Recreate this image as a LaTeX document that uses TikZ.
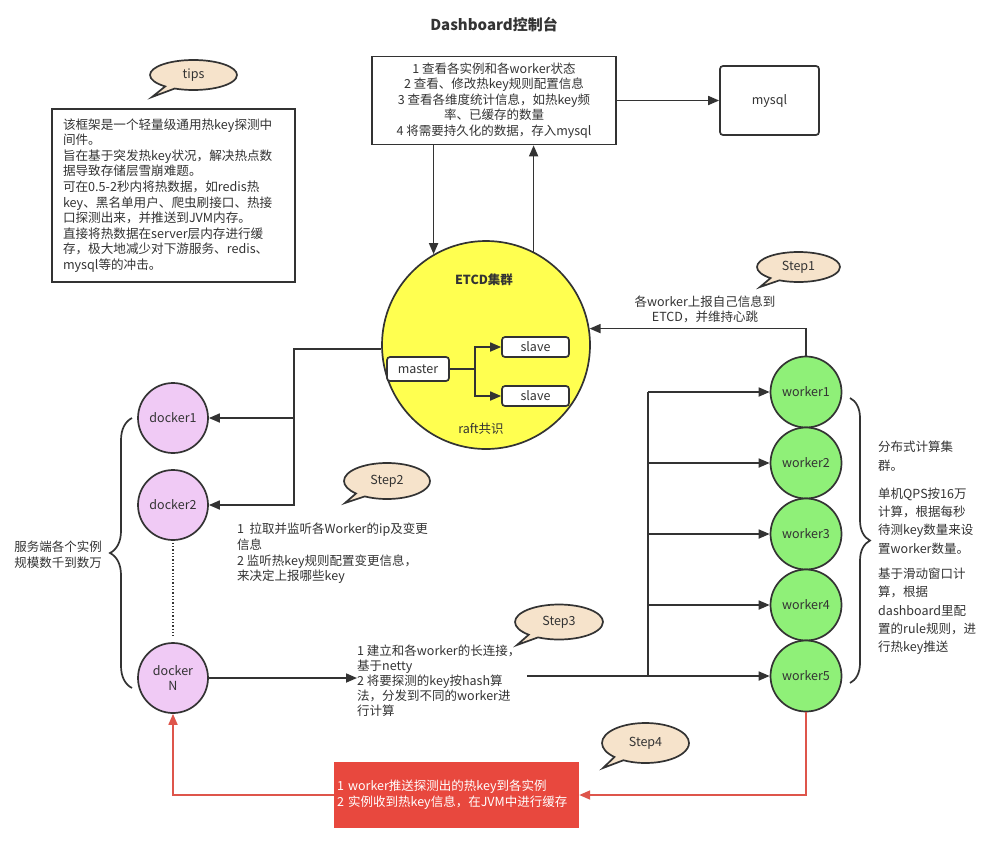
\documentclass[tikz,border=0pt]{standalone}
\usepackage{fontspec}
\setmainfont{Noto Sans CJK SC}
\usetikzlibrary{arrows.meta,shapes.callouts,shapes.geometric,decorations.pathreplacing,calc}
\definecolor{ink}{HTML}{333333}
\definecolor{etcdy}{RGB}{255,255,80}
\definecolor{wgreen}{RGB}{143,240,120}
\definecolor{dpink}{RGB}{240,202,245}
\definecolor{bub}{RGB}{246,227,203}
\definecolor{redbox}{RGB}{232,72,62}
\definecolor{redln}{RGB}{222,85,75}
\begin{document}
\begin{tikzpicture}[x=1pt,y=-1pt,
  every node/.style={text=ink},
  txt/.style={font=\fontsize{12.5}{15.6}\selectfont},
  line/.style={draw=ink, line width=1.7pt},
  arr/.style={line, -{Triangle[length=11pt,width=9pt]}},
  redarr/.style={draw=redln, line width=1.7pt, -{Triangle[length=11pt,width=9pt]}},
  box/.style={line, fill=white, txt, inner sep=0pt},
  worker/.style={circle, line, fill=wgreen, minimum size=71pt, inner sep=0pt, txt},
  docker/.style={circle, line, fill=dpink, minimum size=70pt, inner sep=0pt, txt, align=center},
  bubble/.style={ellipse callout, line, fill=bub, inner sep=0pt, txt},
  plain/.style={txt, inner sep=0pt, align=left, anchor=north west},
  bracestyle/.style={line, decorate}
]
\fill[white] (0,0) rectangle (1000,841);
\useasboundingbox (0,0) rectangle (1000,841);

% title
\node[font=\fontsize{15}{18}\selectfont\bfseries] (title) at (494,25) {Dashboard控制台};

% dashboard box and mysql
\node[line, txt, align=center, minimum width=244pt, minimum height=88pt, inner sep=0pt] (dash) at (494,100.5)
 {1 查看各实例和各worker状态\\2 查看、修改热key规则配置信息\\3 查看各维度统计信息，如热key频\\率、已缓存的数量\\4 将需要持久化的数据，存入mysql};
\node[box, rounded corners=3pt, minimum width=99pt, minimum height=69pt] (mysql) at (769.5,100.5) {mysql};
\draw[arr] (dash.east |- mysql.west) -- (mysql.west);

% tips
\node[bubble, minimum width=87pt, minimum height=30pt, callout absolute pointer={(152,97)}] (tips) at (193.5,75) {tips};
\node[line, font=\fontsize{12.6}{15.6}\selectfont, text width=221pt, align=left, minimum width=243pt, minimum height=173pt, inner xsep=11pt, inner ysep=0pt] (tipsbox) at (173.5,195.5)
 {该框架是一个轻量级通用热key探测中\\间件。\\旨在基于突发热key状况，解决热点数\\据导致存储层雪崩难题。\\可在0.5-2秒内将热数据，如redis热\\key、黑名单用户、爬虫刷接口、热接\\口探测出来，并推送到JVM内存。\\直接将热数据在server层内存进行缓\\存，极大地减少对下游服务、redis、\\mysql等的冲击。};

% ETCD
\node[circle, line, fill=etcdy, minimum size=208pt, inner sep=0pt] (etcd) at (486,345) {};
\node[txt, font=\fontsize{12.5}{15}\selectfont\bfseries] (etcdlabel) at (484,280) {ETCD集群};
\node[txt] (raft) at (481,429) {raft共识};
\node[box, rounded corners=3pt, minimum width=62pt, minimum height=24pt] (master) at (418,369) {master};
\node[box, rounded corners=3pt, minimum width=67pt, minimum height=20pt] (s1) at (535.5,347) {slave};
\node[box, rounded corners=3pt, minimum width=67pt, minimum height=20pt] (s2) at (535.5,396) {slave};
\coordinate (fork) at (475,369);
\draw[line] (master.east) -- (fork);
\draw[arr] (fork) |- (s1.west);
\draw[arr] (fork) |- (s2.west);

% dashboard <-> etcd
\draw[arr] (dash.south -| etcd.120.6) -- (etcd.120.6);
\draw[arr] (etcd.63.1) -- (etcd.63.1 |- dash.south);

% workers
\node[worker] (w1) at (806,392) {worker1};
\node[worker] (w2) at (806,463) {worker2};
\node[worker] (w3) at (806,534) {worker3};
\node[worker] (w4) at (806,605) {worker4};
\node[worker] (w5) at (806,676) {worker5};

% step1
\node[bubble, minimum width=83pt, minimum height=30pt, callout absolute pointer={(760,287)}] (st1) at (798.5,267) {Step1};
\node[txt, inner sep=0pt, align=center, font=\fontsize{12.5}{15}\selectfont] (st1text) at (705,309) {各worker上报自己信息到\\ETCD，并维持心跳};
\draw[arr] (w1.north) |- (etcd.9.4);

% dockers
\node[docker] (d1) at (173,418) {docker1};
\node[docker] (d2) at (173,505) {docker2};
\node[docker, font=\fontsize{12.5}{15}\selectfont] (dN) at (173,678) {docker\\N};
\draw[ink, line width=1.3pt, dotted] ([yshift=-2pt]d2.south) -- ([yshift=6pt]dN.north);
\coordinate (ej) at (294,418);
\draw[arr] (etcd.182.8) -| (ej) |- (d2.east);
\draw[arr] (ej) -- (d1.east);

% left brace
\draw[bracestyle, decoration={brace, amplitude=22pt}] (132,688) -- (132,418);
\node[txt, align=center, inner sep=0pt, font=\fontsize{12.5}{16}\selectfont] (lefttext) at (58,555) {服务端各个实例\\规模数千到数万};

% step2
\node[bubble, minimum width=86pt, minimum height=36pt, callout absolute pointer={(345,503)}] (st2) at (387,481) {Step2};
\node[plain] (st2text) at (237,523) {1\ \ 拉取并监听各Worker的ip及变更\\信息\\2 监听热key规则配置变更信息，\\来决定上报哪些key};

% step3
\node[bubble, minimum width=88pt, minimum height=35pt, callout absolute pointer={(517,645)}] (st3) at (559,622) {Step3};
\node[plain, font=\fontsize{12.5}{15}\selectfont] (st3text) at (357,645) {1 建立和各worker的长连接，\\基于netty\\2 将要探测的key按hash算\\法，分发到不同的worker进\\行计算};
\draw[arr] (dN.east) -- (dN.east -| st3text.west);
\coordinate (s3out) at (527,676);
\coordinate (bus5) at (648,676);
\draw[line] (s3out) -- (bus5);
\draw[line] (w1.west -| bus5) -- (bus5);
\draw[arr] (w1.west -| bus5) -- (w1.west);
\draw[arr] (w2.west -| bus5) -- (w2.west);
\draw[arr] (w3.west -| bus5) -- (w3.west);
\draw[arr] (w4.west -| bus5) -- (w4.west);
\draw[arr] (bus5) -- (w5.west);

% right brace and text
\draw[bracestyle, decoration={brace, amplitude=20pt}] (850,398) -- (850,683);
\node[plain, font=\fontsize{12.5}{18.3}\selectfont] (righttext) at (878,441) {分布式计算集\\群。\\[10pt]单机QPS按16万\\计算，根据每秒\\待测key数量来设\\置worker数量。\\[7pt]基于滑动窗口计\\算，根据\\dashboard里配\\置的rule规则，进\\行热key推送};

% step4
\node[bubble, minimum width=87pt, minimum height=40pt, callout absolute pointer={(603,768)}] (st4) at (645.5,743) {Step4};
\node[fill=redbox, minimum width=245pt, minimum height=66pt, text width=239pt, inner xsep=3pt, inner ysep=0pt, align=left, font=\fontsize{12.5}{16}\selectfont, text=white] (push) at (456.5,795)
 {1 worker推送探测出的热key到各实例\\2 实例收到热key信息，在JVM中进行缓存};
\draw[redarr] (w5.south) |- (push.east);
\draw[redarr] (push.west) -| (dN.south);
\end{tikzpicture}
\end{document}
